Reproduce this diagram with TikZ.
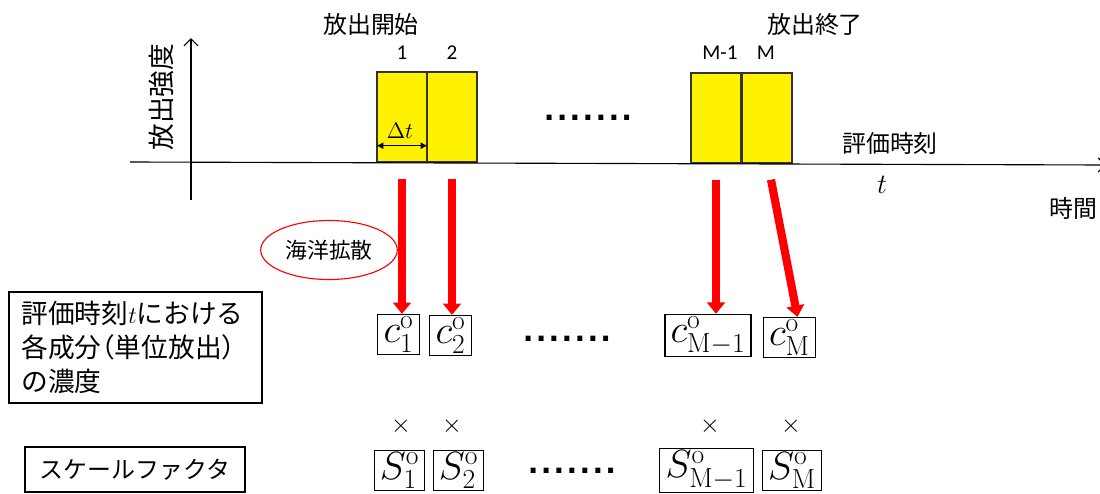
\RequirePackage{fix-cm}
\documentclass[tikz,border=0pt]{standalone}
\usepackage[no-math]{fontspec}
\setmainfont{Carlito}
\newfontfamily\jp{Noto Sans CJK JP}
\newfontfamily\dv{DejaVu Sans}
\usetikzlibrary{arrows.meta,shapes.geometric}
\newcommand{\dotrow}{\textbf{.\kern1.6pt.\kern1.6pt.\kern1.6pt.\kern1.6pt.\kern1.6pt.\kern1.6pt.}}

\begin{document}
\begin{tikzpicture}[x=0.025cm, y=-0.025cm,
    bar/.style={rectangle, draw=black!80, line width=1pt, fill=yellow, minimum width=1.25cm, minimum height=2.25cm, inner sep=0pt},
    jlabel/.style={font=\jp\fontsize{17}{20}\selectfont, inner sep=0pt},
    num/.style={font=\fontsize{15}{17}\selectfont, inner sep=0pt},
    mbox/.style={rectangle, draw, line width=0.8pt, inner xsep=4pt, inner ysep=1.5pt, font=\fontsize{28}{32}\selectfont},
    flow/.style={-{Triangle[length=8pt,width=12.5pt]}, line width=5.8pt, red},
    axis/.style={line width=0.8pt, -{Straight Barb[length=5pt,width=10pt]}},
    dots/.style={anchor=base, inner sep=0pt, font=\dv\fontsize{20}{22}\selectfont},
    times/.style={font=\fontsize{18}{20}\selectfont, inner sep=0pt},
    textbox/.style={rectangle, draw, line width=0.8pt, font=\jp\fontsize{19}{24}\selectfont},
]
\useasboundingbox (0,0) rectangle (1100,494);

% release bars
\node[bar] (b1) at (402,117) {};
\node[bar] (b2) at (452,117) {};
\node[bar] (bM1) at (716,118) {};
\node[bar] (bM) at (767,118) {};

% axes
\coordinate (tstart) at (130,162);
\coordinate (tend) at (1106,165);
\coordinate (ybottom) at (191,200);
\coordinate (ytop) at (191,38);
\draw[axis] (tstart) -- (tend);
\draw[axis] (ybottom) -- (ytop);

% labels on the time chart
\node[jlabel, rotate=90, font=\jp\fontsize{19}{21}\selectfont] (intensity) at (161,97) {放出強度};
\node[jlabel] (start) at (371,24) {放出開始};
\node[jlabel] (finish) at (815,24) {放出終了};
\node[num] (n1) at (402,53) {1};
\node[num] (n2) at (452,53) {2};
\node[num] (nM1) at (720,53) {M-1};
\node[num] (nM) at (766,53) {M};
\node[dots] (dtop) at (588,120) {\dotrow};
\node[jlabel] (evaltime) at (890,143) {評価時刻};
\node[inner sep=0pt, font=\fontsize{20}{22}\selectfont] (tlabel) at (882,185) {$t$};
\node[jlabel, anchor=west] (timeaxis) at (1049,208) {時間};

% width of one step
\draw[{Latex[length=5pt,width=5pt]}-{Latex[length=5pt,width=5pt]}, line width=0.9pt] ([yshift=0.425cm]b1.south west) -- ([yshift=0.425cm]b1.south east);
\node[inner sep=0pt, font=\fontsize{16}{18}\selectfont] (dt) at (400,131) {$\Delta t$};

\node[ellipse, draw=red, line width=0.8pt, minimum width=2.8cm, minimum height=1.475cm, font=\jp\fontsize{15.5}{17}\selectfont] (diff) at (329,250) {海洋拡散};

% concentrations
\node[textbox, minimum width=6.325cm, minimum height=2.775cm, inner xsep=0.3cm, text width=5.7cm, align=left] (conc) at (135.5,347.5) {評価時刻{\fontsize{17}{24}\selectfont$t$}における\\各成分{\addfontfeature{CharacterWidth=AlternateHalf}（}単位放出{\addfontfeature{CharacterWidth=AlternateHalf}）}\\の濃度};
\node[mbox] (c1) at (398.5,334.5) {$c^{\mathrm{o}}_{1}$};
\node[mbox] (c2) at (450.5,335.5) {$c^{\mathrm{o}}_{2}$};
\node[mbox] (cM1) at (708,335.5) {$c^{\mathrm{o}}_{\mathrm{M}-1}$};
\node[mbox] (cM) at (789.5,337.5) {$c^{\mathrm{o}}_{\mathrm{M}}$};
\node[dots] (dmid) at (567,341) {\dotrow};

\draw[flow] ([yshift=-0.4cm]b1.south) -- (b1.south |- c1.north);
\draw[flow] ([yshift=-0.4cm]b2.south) -- (b2.south |- c2.north);
\draw[flow] ([yshift=-0.4cm]bM1.south) -- (bM1.south |- cM1.north);
\draw[flow] ([xshift=0.1cm,yshift=-0.4cm]bM.south) -- ([xshift=0.2cm]cM.north);

% multiplication signs
\node[times] (x1) at (401,426) {$\times$};
\node[times] (x2) at (452,426) {$\times$};
\node[times] (xM1) at (710,426) {$\times$};
\node[times] (xM) at (791,426) {$\times$};

% scale factors
\node[textbox, minimum width=5.5cm, minimum height=1.125cm, font=\jp\fontsize{17}{20}\selectfont] (scale) at (135,469.5) {スケールファクタ};
\node[mbox] (s1) at (399.5,470.5) {$S^{\mathrm{o}}_{1}$};
\node[mbox] (s2) at (458.5,470.5) {$S^{\mathrm{o}}_{2}$};
\node[mbox] (sM1) at (706.5,470.5) {$S^{\mathrm{o}}_{\mathrm{M}-1}$};
\node[mbox] (sM) at (792,470.5) {$S^{\mathrm{o}}_{\mathrm{M}}$};
\node[dots] (dbot) at (572,473) {\dotrow};
\end{tikzpicture}
\end{document}
